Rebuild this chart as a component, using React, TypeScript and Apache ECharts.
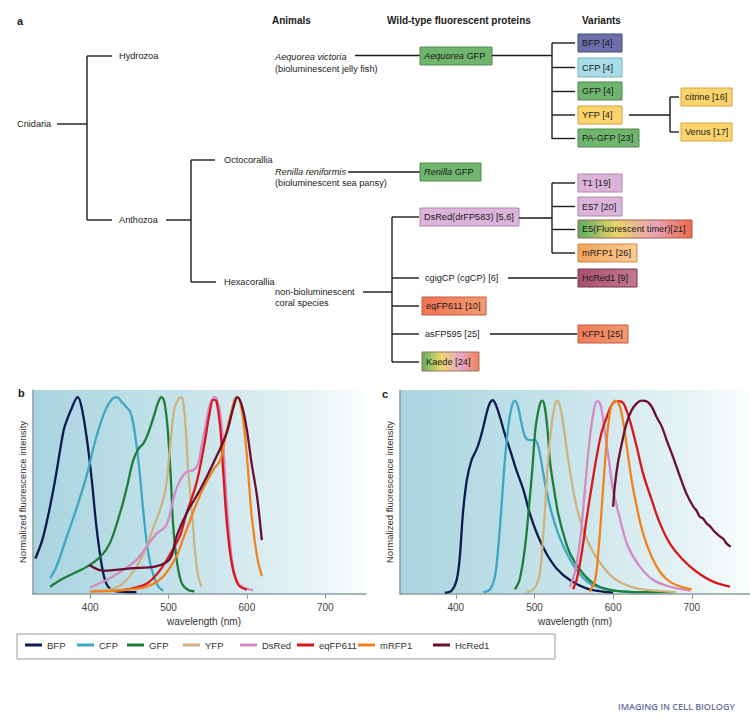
import React, { useEffect, useRef } from "react";
import * as echarts from "echarts";

// ---------------- DATA ----------------
const proteinNames = ["BFP", "CFP", "GFP", "YFP", "DsRed", "eqFP611", "mRFP1", "HcRed1"];
const tickValues = [400, 500, 600, 700];

// panel b: excitation spectra [wavelength nm, normalized intensity]
const bfpEx = [[330,0.18],[340,0.29],[353,0.53],[366,0.83],[370,0.88],[376,0.94],[384,1.0],[389,0.95],[396,0.78],[402,0.58],[408,0.34],[415,0.14],[421,0.05],[430,0.017],[447,0.01],[459,0.01]];
const cfpEx = [[349,0.08],[357,0.14],[370,0.29],[383,0.44],[396,0.61],[408,0.8],[419,0.93],[428,0.99],[434,1.0],[440,0.976],[446,0.95],[451,0.925],[455,0.866],[462,0.66],[468,0.41],[474,0.21],[481,0.09],[487,0.037],[493,0.017]];
const gfpEx = [[349,0.037],[362,0.071],[379,0.105],[396,0.139],[413,0.189],[425,0.257],[438,0.41],[447,0.545],[455,0.68],[462,0.74],[468,0.765],[474,0.816],[481,0.9],[487,0.976],[491,1.0],[495,0.968],[499,0.832],[503,0.579],[506,0.342],[511,0.156],[517,0.054],[525,0.02],[533,0.014]];
const yfpEx = [[400,0.017],[421,0.02],[442,0.054],[459,0.139],[472,0.24],[481,0.342],[489,0.426],[496,0.528],[500,0.663],[504,0.832],[508,0.951],[513,0.993],[516,1.0],[519,0.968],[522,0.832],[525,0.63],[530,0.41],[534,0.207],[538,0.088],[542,0.037]];
const dsredEx = [[400,0.034],[421,0.071],[442,0.122],[459,0.173],[472,0.24],[485,0.308],[496,0.342],[502,0.41],[508,0.511],[515,0.579],[523,0.621],[532,0.63],[538,0.663],[542,0.748],[547,0.849],[551,0.934],[555,0.985],[559,1.0],[562,0.985],[566,0.917],[570,0.748],[574,0.477],[579,0.24],[583,0.122],[589,0.054],[598,0.029],[608,0.02]];
const eqfpEx = [[435,0.017],[455,0.03],[473,0.055],[489,0.12],[506,0.23],[515,0.3],[523,0.41],[534,0.54],[540,0.64],[547,0.79],[552,0.91],[557,0.986],[561,0.98],[566,0.843],[570,0.606],[575,0.335],[581,0.149],[589,0.047],[600,0.022]];
const mrfpEx = [[400,0.012],[442,0.02],[472,0.037],[493,0.088],[510,0.19],[519,0.284],[540,0.5],[557,0.63],[566,0.68],[574,0.826],[581,0.94],[585,0.995],[588,1.0],[594,0.92],[600,0.7],[606,0.4],[613,0.19],[619,0.09]];
const hcredEx = [[399,0.147],[417,0.118],[451,0.13],[485,0.142],[502,0.18],[510,0.29],[523,0.41],[540,0.528],[557,0.663],[574,0.816],[583,0.951],[588,1.0],[594,0.951],[600,0.832],[606,0.663],[613,0.494],[619,0.274]];

// panel c: emission spectra [wavelength nm, normalized intensity]
const bfpEm = [[386,0.007],[394.5,0.017],[401,0.072],[405,0.19],[409,0.416],[414,0.588],[420,0.691],[426,0.742],[430.5,0.794],[435,0.862],[439,0.931],[443,0.983],[447,1.0],[451,0.974],[456,0.914],[462,0.828],[469,0.742],[477,0.639],[486,0.536],[494,0.416],[503,0.313],[515,0.21],[528,0.132],[545,0.072],[566,0.029],[587,0.012],[600,0.008]];
const cfpEm = [[435,0.01],[443,0.022],[449.6,0.089],[454,0.244],[458,0.45],[462,0.674],[466.6,0.862],[471,0.966],[475,0.997],[479,0.966],[483.5,0.88],[488,0.811],[494,0.794],[500.5,0.794],[505,0.759],[509,0.674],[515,0.536],[522,0.416],[530,0.313],[541,0.21],[553.5,0.124],[570,0.055],[587,0.029],[613,0.012],[640,0.008]];
const gfpEm = [[475,0.024],[481,0.072],[488,0.244],[493,0.45],[497.5,0.656],[501,0.845],[505,0.948],[508,0.991],[510,0.997],[513,0.966],[516.6,0.845],[520,0.674],[525,0.536],[530,0.416],[536.5,0.313],[545,0.21],[558,0.124],[575,0.055],[596,0.021],[630,0.01],[676,0.01]];
const yfpEm = [[490,0.01],[498,0.022],[505,0.072],[509,0.192],[513,0.416],[517,0.674],[522,0.88],[526,0.974],[529,0.997],[532,0.974],[536.5,0.88],[541,0.742],[547,0.588],[553.5,0.45],[562,0.33],[573,0.227],[587,0.141],[604,0.072],[630,0.029],[672,0.012],[680,0.01]];
const dsredEm = [[545,0.038],[551,0.107],[558,0.279],[564,0.536],[570,0.794],[575.5,0.948],[580,0.997],[584,0.974],[588,0.88],[594,0.708],[600,0.536],[609,0.382],[619,0.244],[634,0.141],[651,0.072],[672,0.038],[698,0.017]];
const eqfpEm = [[549,0.024],[553.5,0.072],[560,0.21],[566,0.381],[572.6,0.553],[579,0.708],[585,0.828],[592,0.914],[598,0.974],[604,0.995],[611,0.991],[617,0.948],[623.5,0.862],[630,0.759],[638,0.622],[649,0.485],[659.5,0.364],[672,0.261],[689,0.175],[706,0.115],[727,0.064],[748.5,0.038]];
const mrfpEm = [[570,0.012],[577,0.072],[581,0.21],[585,0.416],[589.5,0.674],[594,0.88],[598,0.974],[603,0.997],[608.6,0.966],[613,0.88],[618,0.742],[623.5,0.588],[630,0.45],[638,0.313],[649,0.192],[659.5,0.115],[672,0.064],[689,0.034],[700,0.024]];
const hcredEm = [[600,0.45],[602,0.553],[606,0.674],[611,0.776],[617,0.88],[623.5,0.948],[630,0.983],[636,0.997],[643,0.993],[649,0.966],[655,0.914],[662,0.862],[668,0.794],[676,0.708],[685,0.605],[693,0.519],[702,0.45],[706,0.43],[710,0.399],[714,0.39],[719,0.364],[723,0.35],[727,0.33],[732,0.31],[736,0.296],[740,0.285],[744,0.261],[749.4,0.244]];

const excitation = [bfpEx, cfpEx, gfpEx, yfpEx, dsredEx, eqfpEx, mrfpEx, hcredEx];
const emission = [bfpEm, cfpEm, gfpEm, yfpEm, dsredEm, eqfpEm, mrfpEm, hcredEm];

// tree texts
const headerLabels = ["Animals", "Wild-type fluorescent proteins", "Variants"];
const cladeLabels = ["Cnidaria", "Hydrozoa", "Anthozoa", "Octocorallia", "Hexacorallia"];
const animalLabels = [
  ["Aequorea victoria", "(bioluminescent jelly fish)"],
  ["Renilla reniformis", "(bioluminescent sea pansy)"],
  ["non-bioluminescent", "coral species"],
];
const wildTypeLabels = ["Aequorea GFP", "Renilla GFP", "DsRed(drFP583) [5,6]", "cgigCP (cgCP) [6]", "eqFP611 [10]", "asFP595 [25]", "Kaede [24]"];
const variantLabels = ["BFP [4]", "CFP [4]", "GFP [4]", "YFP [4]", "PA-GFP [23]", "citrine [16]", "Venus [17]", "T1 [19]", "E57 [20]", "E5(Fluorescent timer)[21]", "mRFP1 [26]", "HcRed1 [9]", "KFP1 [25]"];
const panelLetters = ["a", "b", "c"];
const footerText = "IMAGING IN CELL BIOLOGY";
const axisNameX = "wavelength (nm)";
const axisNameY = "Normalized fluorescence intensity";

// ---------------- STYLE ----------------
const FONT = '"Liberation Sans", Arial, Helvetica, sans-serif';
const INK = "#1a1a1a";
const FS = 9.2;
const proteinColors = ["#0c1a4f", "#3ca8c4", "#1f7c3b", "#cdb37f", "#d48bc4", "#d8171c", "#f0821f", "#6c0f2f"];
const legendLefts = [25, 77, 127, 183, 240, 297, 358, 433];

const lg = (cols: string[]) =>
  new echarts.graphic.LinearGradient(0, 0, 1, 0, cols.map((c, i) => ({ offset: i / (cols.length - 1), color: c })));

const T = (x: number, y: number, text: string, size = FS, extra: any = {}) => ({
  type: "text",
  x,
  y,
  silent: true,
  style: { text, fill: INK, fontSize: size, fontFamily: FONT, align: "left", verticalAlign: "middle", ...extra },
});

const L = (x1: number, y1: number, x2: number, y2: number) => ({
  type: "line",
  silent: true,
  shape: { x1, y1, x2, y2 },
  style: { stroke: INK, lineWidth: 1.4 },
});

const boxLabel = (x: number, y: number, label: string) => {
  const m = label.match(/^(Aequorea|Renilla) (.*)$/);
  if (m) {
    return T(x, y, `{i|${m[1]}} ${m[2]}`, FS, {
      rich: { i: { fontStyle: "italic", fontSize: FS, fontFamily: FONT, fill: INK } },
    });
  }
  return T(x, y, label);
};

const BOX = (x: number, y: number, w: number, h: number, label: string, fill: any, stroke: string) => [
  { type: "rect", silent: true, shape: { x, y, width: w, height: h }, style: { fill, stroke, lineWidth: 1 } },
  boxLabel(x + 4, y + h / 2, label),
];

const GREEN = "#70b56e", GREEN_S = "#4e8a4e";
const YEL = "#fdd46c", YEL_S = "#d6a53f";
const LIL = "#dcb4db", LIL_S = "#ad88ab";

function buildTree() {
  const els: any[] = [];
  // panel letter + headers
  els.push(T(17, 20.5, panelLetters[0], 11, { fontWeight: "bold" }));
  els.push(T(272, 20.5, headerLabels[0], 10, { fontWeight: "bold" }));
  els.push(T(387, 20.5, headerLabels[1], 10, { fontWeight: "bold" }));
  els.push(T(582, 20.5, headerLabels[2], 10, { fontWeight: "bold" }));

  // clades
  els.push(T(17, 124, cladeLabels[0]));
  els.push(T(119, 56, cladeLabels[1]));
  els.push(T(119, 220, cladeLabels[2]));
  els.push(T(224, 159.5, cladeLabels[3]));
  els.push(T(224, 282, cladeLabels[4]));
  els.push(L(57, 124, 87, 124), L(87, 56, 87, 220), L(87, 56, 112, 56), L(87, 220, 112, 220));
  els.push(L(166, 220, 191, 220), L(191, 160, 191, 282), L(191, 160, 215, 160), L(191, 282, 216, 282));

  // animals
  els.push(T(275, 57, animalLabels[0][0], FS, { fontStyle: "italic" }));
  els.push(T(275, 69, animalLabels[0][1]));
  els.push(T(275, 172, animalLabels[1][0], FS, { fontStyle: "italic" }));
  els.push(T(275, 183, animalLabels[1][1]));
  els.push(T(275, 292.3, animalLabels[2][0]));
  els.push(T(275, 303, animalLabels[2][1]));
  els.push(L(355, 55.5, 420, 55.5), L(348, 172, 420, 172), L(363, 292, 392, 292));

  // wild-type proteins
  els.push(...BOX(420, 47, 72, 18, wildTypeLabels[0], GREEN, GREEN_S));
  els.push(...BOX(420, 163, 61, 18, wildTypeLabels[1], GREEN, GREEN_S));
  els.push(...BOX(420, 208, 99, 18, wildTypeLabels[2], LIL, LIL_S));
  els.push(T(425, 278, wildTypeLabels[3]));
  els.push(...BOX(422, 297, 64, 18, wildTypeLabels[4], lg(["#ee7456", "#f39a72"]), "#c35a3c"));
  els.push(T(425, 334, wildTypeLabels[5]));
  els.push(...BOX(422, 352, 57, 19, wildTypeLabels[6], lg(["#5aae62", "#eed66c", "#e6a9c8", "#f08058"]), "#a0705a"));

  // Aequorea variants
  els.push(L(492, 55.5, 552, 55.5), L(552, 43, 552, 139));
  [43, 67.5, 91.5, 115, 138.5].forEach((y) => els.push(L(552, y, 575, y)));
  els.push(...BOX(578, 34, 44, 18, variantLabels[0], "#6b6ea8", "#474a7e"));
  els.push(...BOX(578, 58, 44, 19, variantLabels[1], "#a8dce6", "#7bb2bd"));
  els.push(...BOX(578, 82, 44, 18, variantLabels[2], GREEN, GREEN_S));
  els.push(...BOX(578, 106, 44, 18, variantLabels[3], YEL, YEL_S));
  els.push(...BOX(578, 129, 61, 18, variantLabels[4], GREEN, GREEN_S));
  els.push(L(629, 115, 670, 115), L(670, 97, 670, 132), L(670, 97, 679, 97), L(670, 132, 679, 132));
  els.push(...BOX(681, 88, 51, 18, variantLabels[5], YEL, YEL_S));
  els.push(...BOX(681, 123, 51, 18, variantLabels[6], YEL, YEL_S));

  // DsRed variants
  els.push(L(519, 218, 552, 218), L(552, 183, 552, 253));
  [183, 206.5, 229.5, 253].forEach((y) => els.push(L(552, y, 575, y)));
  els.push(...BOX(578, 174, 44, 18, variantLabels[7], LIL, LIL_S));
  els.push(...BOX(578, 197, 44, 19, variantLabels[8], LIL, LIL_S));
  els.push(...BOX(578, 220, 114, 18, variantLabels[9], lg(["#5aae62", "#e8d46a", "#eaa4b8", "#ee6a4c"]), "#a0604c"));
  els.push(...BOX(578, 244, 59, 18, variantLabels[10], lg(["#f4a25a", "#f9cc96"]), "#cf8a4a"));

  // hexacorallia wild types
  els.push(L(392, 217, 392, 362));
  [217, 278, 306, 334, 362].forEach((y) => els.push(L(392, y, 419, y)));
  els.push(L(508, 278, 577, 278), L(490, 334, 577, 334));
  els.push(...BOX(578, 269, 59, 18, variantLabels[11], lg(["#a9506f", "#c07a92"]), "#7a3450"));
  els.push(...BOX(578, 325, 50, 18, variantLabels[12], lg(["#f07a58", "#f39a70"]), "#c35a3c"));

  // panel letters b, c
  els.push(T(18, 393, panelLetters[1], 11, { fontWeight: "bold" }));
  els.push(T(382, 394, panelLetters[2], 11, { fontWeight: "bold" }));

  // legend frame
  els.push({ type: "rect", silent: true, z: -1, shape: { x: 17, y: 634, width: 538, height: 25 }, style: { fill: "none", stroke: "#9a9a9a", lineWidth: 1 } });

  // footer
  els.push({
    type: "text",
    x: 618,
    y: 706,
    silent: true,
    style: { text: footerText, fill: "#6a6d9b", fontSize: 9, fontWeight: 600, fontFamily: '"Open Sans", sans-serif', align: "left", verticalAlign: "middle" },
  });
  return els;
}

const bgGrad = () =>
  new echarts.graphic.LinearGradient(0, 0, 1, 0, [
    { offset: 0, color: "#a9d4df" },
    { offset: 0.45, color: "#c6e3ea" },
    { offset: 0.85, color: "#e8f4f6" },
    { offset: 1, color: "#fbfdfd" },
  ]);

const axisGray = "#8e9ca2";

const xAxisFor = (i: number, min: number, max: number) => ({
  type: "value",
  gridIndex: i,
  min,
  max,
  axisLine: { show: true, onZero: false, lineStyle: { color: axisGray, width: 1.5 } },
  axisTick: { show: true, customValues: tickValues, length: 5, lineStyle: { color: axisGray } },
  axisLabel: { show: true, customValues: tickValues, fontSize: 10, color: "#444", margin: 8, fontFamily: FONT },
  splitLine: { show: false },
  name: axisNameX,
  nameLocation: "middle",
  nameGap: 22,
  nameTextStyle: { fontSize: 10, color: "#333", fontFamily: FONT, padding: i === 0 ? [0, 0, 0, 9] : [0, 0, 0, 0] },
});

const yAxisFor = (i: number, max: number) => ({
  type: "value",
  gridIndex: i,
  min: 0,
  max,
  axisLine: { show: true, lineStyle: { color: axisGray, width: 1.5 } },
  axisTick: { show: false },
  axisLabel: { show: false },
  splitLine: { show: false },
  name: axisNameY,
  nameLocation: "middle",
  nameGap: 6,
  nameRotate: 90,
  nameTextStyle: { fontSize: 9.5, color: "#333", fontFamily: FONT },
});

export default function App() {
  const ref = useRef<HTMLDivElement>(null);
  useEffect(() => {
    if (!ref.current) return;
    const chart = echarts.init(ref.current, null, { renderer: "svg" });
    const series: any[] = [];
    proteinNames.forEach((name, i) => {
      series.push({
        type: "line",
        name,
        xAxisIndex: 0,
        yAxisIndex: 0,
        data: excitation[i],
        showSymbol: false,
        smooth: 0.35,
        lineStyle: { width: 2.3, color: proteinColors[i] },
        itemStyle: { color: proteinColors[i] },
        emphasis: { disabled: true },
        z: 2 + i * 0.01,
      });
      series.push({
        type: "line",
        name,
        xAxisIndex: 1,
        yAxisIndex: 1,
        data: emission[i],
        showSymbol: false,
        smooth: 0.35,
        lineStyle: { width: 2.3, color: proteinColors[i] },
        itemStyle: { color: proteinColors[i] },
        emphasis: { disabled: true },
        z: 2 + i * 0.01,
      });
    });
    chart.setOption({
      animation: false,
      backgroundColor: "#ffffff",
      textStyle: { fontFamily: FONT },
      grid: [
        { left: 33, top: 390, width: 333, height: 204, show: true, backgroundColor: bgGrad(), borderWidth: 0 },
        { left: 400, top: 390, width: 350, height: 204, show: true, backgroundColor: bgGrad(), borderWidth: 0 },
      ],
      xAxis: [xAxisFor(0, 327, 752), xAxisFor(1, 329, 774)],
      yAxis: [yAxisFor(0, 1.036), yAxisFor(1, 1.052)],
      legend: proteinNames.map((n, i) => ({
        data: [n],
        left: legendLefts[i],
        top: 640,
        padding: 0,
        icon: "rect",
        itemWidth: 17,
        itemHeight: 3,
        itemGap: 0,
        selectedMode: false,
        textStyle: { fontSize: 9.5, color: "#333", fontFamily: FONT },
      })),
      tooltip: { show: false },
      series,
      graphic: { elements: buildTree() },
    });
    return () => chart.dispose();
  }, []);
  return <div ref={ref} style={{ position: "absolute", left: 0, top: 0, width: 750, height: 728 }} />;
}
